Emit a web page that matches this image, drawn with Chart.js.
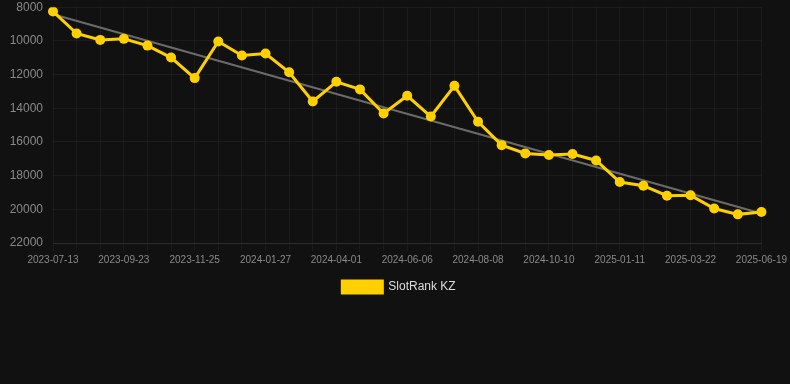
<!DOCTYPE html>
<html lang="en">
<head>
    <meta charset="UTF-8">
    <title>SlotRank KZ</title>
    <script src="https://cdn.jsdelivr.net/npm/chart.js"></script>
    <style>
        body { margin: 0; background: #111111; }
        .wrap { width: 790px; height: 303px; }
    </style>
</head>
<body>
    <div class="wrap">
        <canvas id="rankChart"></canvas>
    </div>
    <script>
        // dates on the x axis (only every 3rd shows)
        const dates = [
            '2023-07-13', '2023-08-05', '2023-08-29', '2023-09-23', '2023-10-14', '2023-11-04',
            '2023-11-25', '2023-12-16', '2024-01-06', '2024-01-27', '2024-02-19', '2024-03-10',
            '2024-04-01', '2024-04-23', '2024-05-15', '2024-06-06', '2024-06-27', '2024-07-18',
            '2024-08-08', '2024-08-29', '2024-09-19', '2024-10-10', '2024-11-05', '2024-12-08',
            '2025-01-11', '2025-02-03', '2025-02-27', '2025-03-22', '2025-04-18', '2025-05-20',
            '2025-06-19'
        ];

        // rank values
        const rankKZ = [
            8250, 9560, 9940, 9880, 10280, 10990, 12210, 10040, 10870, 10750, 11860,
            13600, 12430, 12880, 14310, 13260, 14490, 12670, 14800, 16190, 16680,
            16780, 16720, 17100, 18380, 18600, 19190, 19170, 19950, 20300, 20160
        ];

        // trend line, first and last value only
        const trend = [8420].concat(new Array(29).fill(null), [20250]);

        const yTicks = [8000, 10000, 12000, 14000, 16000, 18000, 20000, 22000];

        const ctx = document.getElementById('rankChart').getContext('2d');
        new Chart(ctx, {
            type: 'line',
            data: {
                labels: dates,
                datasets: [
                    {
                        label: 'SlotRank KZ',
                        data: rankKZ,
                        borderColor: '#ffd000',
                        backgroundColor: '#ffd000',
                        borderWidth: 3,
                        pointRadius: 5,
                        pointHoverRadius: 6,
                        pointBackgroundColor: '#ffd000',
                        pointBorderWidth: 0,
                        tension: 0,
                        order: 1
                    },
                    {
                        label: 'trend',
                        data: trend,
                        borderColor: '#6b6b6b',
                        borderWidth: 2,
                        pointRadius: 0,
                        spanGaps: true,
                        fill: false,
                        order: 2
                    }
                ]
            },
            options: {
                responsive: true,
                maintainAspectRatio: false,
                animation: false,
                layout: { autoPadding: false, padding: { left: 10, right: 2, top: 0 } },
                scales: {
                    x: {
                        grid: { color: 'rgba(255,255,255,0.045)', tickLength: 8 },
                        border: { color: 'rgba(255,255,255,0.08)' },
                        ticks: {
                            color: '#8a8a8a',
                            font: { family: 'Liberation Sans, Arial', size: 10 },
                            maxRotation: 0,
                            autoSkip: false,
                            callback: (v, i) => (i % 3 === 0 ? dates[i] : '')
                        }
                    },
                    y: {
                        reverse: true,
                        min: 8000,
                        max: 22000,
                        afterBuildTicks: axis => { axis.ticks = yTicks.map(v => ({ value: v })); },
                        afterFit: axis => { axis.width = 43; },
                        grid: { color: 'rgba(255,255,255,0.045)', tickLength: 10, tickColor: 'rgba(0,0,0,0)' },
                        border: { display: false },
                        ticks: {
                            color: '#8a8a8a',
                            padding: 0,
                            font: { family: 'Liberation Sans, Arial', size: 12 },
                            callback: v => String(v)
                        }
                    }
                },
                plugins: {
                    legend: {
                        position: 'bottom',
                        labels: {
                            color: '#dddddd',
                            boxWidth: 40,
                            boxHeight: 12,
                            padding: 12,
                            font: { family: 'Liberation Sans, Arial', size: 12 },
                            filter: item => item.text !== 'trend'
                        }
                    },
                    tooltip: { enabled: false }
                }
            }
        });
    </script>
</body>
</html>
